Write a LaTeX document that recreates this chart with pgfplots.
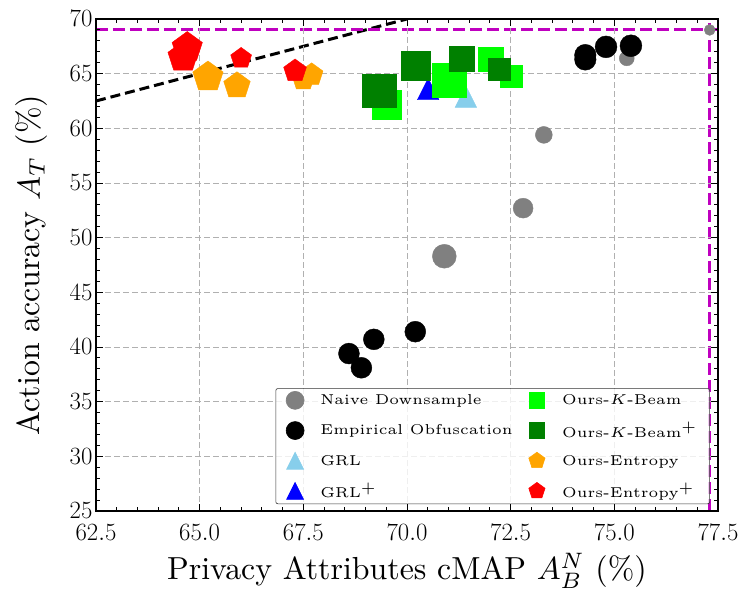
\documentclass[border=0pt]{standalone}
\usepackage{graphicx}
\usepackage{pgfplots}
\usepackage{pgfplotstable}
\pgfplotsset{compat=1.18}
\definecolor{mgray}{HTML}{808080}
\definecolor{skyb}{HTML}{87CEEB}
\definecolor{mblue}{HTML}{0000FF}
\definecolor{mlime}{HTML}{00FF00}
\definecolor{mgreen}{HTML}{008000}
\definecolor{morange}{HTML}{FFA500}
\definecolor{mred}{HTML}{FF0000}
\definecolor{mmag}{HTML}{BF00BF}
\definecolor{gridgray}{HTML}{B0B0B0}

\pgfdeclareplotmark{mpltri}{%
  \pgfpathmoveto{\pgfqpoint{0pt}{\pgfplotmarksize}}%
  \pgfpathlineto{\pgfqpoint{-\pgfplotmarksize}{-\pgfplotmarksize}}%
  \pgfpathlineto{\pgfqpoint{\pgfplotmarksize}{-\pgfplotmarksize}}%
  \pgfpathclose
  \pgfusepathqfillstroke}

\newcommand{\legtxt}[1]{\scalebox{2.87}{\fontsize{5}{6}\selectfont #1}}
\newcommand{\labtxt}[1]{\scalebox{3.2}{\fontsize{10}{12}\selectfont #1}}

\pgfplotstableread{
x y r
77.3 69.0 5.5
75.3 66.4 7.5
73.3 59.4 8.5
72.8 52.7 10
70.9 48.3 12
}\naive
\pgfplotstableread{
x y r
74.3 66.7 10.8
74.3 66.3 10.8
74.8 67.45 11
75.4 67.55 11
68.6 39.4 10.5
68.9 38.1 10.5
69.2 40.7 10.5
70.2 41.4 10.5
}\empir
\pgfplotstableread{
x y r
71.42 62.9 10.8
}\grl
\pgfplotstableread{
x y r
70.51 63.6 10.8
}\grlp
\pgfplotstableread{
x y r
69.52 62.18 14.5
71.01 64.39 17
72.02 66.32 12.5
72.51 64.8 11
}\kbeam
\pgfplotstableread{
x y r
69.32 63.44 17
70.21 65.71 14.8
71.31 66.4 12.5
72.22 65.4 11
}\kbeamp
\pgfplotstableread{
x y r
65.2 64.7 16
65.9 63.9 14
67.5 64.5 12
67.7 64.9 12
}\entr
\pgfplotstableread{
x y r
64.7 67.4 16
64.6 66.5 16
66.0 66.4 11
67.3 65.25 12
}\entrp

\pgfplotsset{
  bub/.style 2 args={scatter, only marks, mark=#1, forget plot,
    point meta=explicit,
    scatter/use mapped color={draw=#2, fill=#2},
    visualization depends on={\thisrow{r}\as\rr},
    scatter/@pre marker code/.append style={/tikz/mark size=\rr pt}},
  legmk/.style={only marks,
    legend image code/.code={\draw[##1, fill opacity=1, draw opacity=1] plot coordinates {(9bp,0bp)};\path (0bp,-9bp) (32bp,9bp);}},
}

\begin{document}
\begin{tikzpicture}
\begin{axis}[
  scale only axis, width=622bp, height=492bp,
  xmin=62.5, xmax=77.5, ymin=25, ymax=70,
  xtick={62.5,65,67.5,70,72.5,75,77.5},
  ytick={25,30,...,70},
  minor x tick num=4, minor y tick num=4,
  tick align=inside, tick pos=both,
  major tick length=7bp, minor tick length=4bp,
  tick style={black, line width=1pt},
  axis line style={black, line width=1.3pt},
  grid=major,
  major grid style={gridgray, line width=0.9pt, dash pattern=on 6bp off 3bp},
  axis on top,
  ticklabel style={font=\fontsize{25.5}{28}\selectfont},
  xticklabel style={yshift=-10bp, /pgf/number format/.cd, fixed, fixed zerofill, precision=1},
  xlabel={\labtxt{Privacy Attributes cMAP $A_B^N$ (\%)}},
  ylabel={\labtxt{Action accuracy $A_T$ (\%)}},
  xlabel style={at={(axis description cs:0.5,-0.140)}, anchor=base},
  ylabel style={at={(axis description cs:-0.103,0.5)}, anchor=center},
  legend columns=2,
  legend cell align=left,
  legend style={at={(rel axis cs:0.987,0.014)}, anchor=south east,
    draw=black!80, line width=0.6pt, rounded corners=2bp,
    fill=white, fill opacity=0.8, draw opacity=1, text opacity=1,
    inner xsep=10bp, inner ysep=2.5bp, row sep=10.5bp,
    /tikz/every even column/.append style={column sep=13bp}},
]
\addlegendimage{legmk, mark=*, mgray, mark size=9bp}
\addlegendentry{\legtxt{Naive Downsample}}
\addlegendimage{legmk, mark=square*, mlime, mark size=7.8bp}
\addlegendentry{\legtxt{Ours-$K$-Beam}}
\addlegendimage{legmk, mark=*, black, mark size=9bp}
\addlegendentry{\legtxt{Empirical Obfuscation}}
\addlegendimage{legmk, mark=square*, mgreen, mark size=7.8bp}
\addlegendentry{\legtxt{Ours-$K$-Beam$^+$}}
\addlegendimage{legmk, mark=mpltri, skyb, mark size=8.5bp}
\addlegendentry{\legtxt{GRL}}
\addlegendimage{legmk, mark=pentagon*, morange, mark size=8.5bp}
\addlegendentry{\legtxt{Ours-Entropy}}
\addlegendimage{legmk, mark=mpltri, mblue, mark size=8.5bp}
\addlegendentry{\legtxt{GRL$^+$}}
\addlegendimage{legmk, mark=pentagon*, mred, mark size=8.5bp}
\addlegendentry{\legtxt{Ours-Entropy$^+$}}

\addplot[bub={*}{mgray}] table[x=x,y=y,meta=r]{\naive};
\addplot[bub={*}{black}] table[x=x,y=y,meta=r]{\empir};
\addplot[bub={mpltri}{skyb}] table[x=x,y=y,meta=r]{\grl};
\addplot[bub={mpltri}{mblue}] table[x=x,y=y,meta=r]{\grlp};
\addplot[bub={square*}{mlime}] table[x=x,y=y,meta=r]{\kbeam};
\addplot[bub={square*}{mgreen}] table[x=x,y=y,meta=r]{\kbeamp};
\addplot[bub={pentagon*}{morange}] table[x=x,y=y,meta=r]{\entr};
\addplot[bub={pentagon*}{mred}] table[x=x,y=y,meta=r]{\entrp};

\addplot[forget plot, black, line width=3bp, dash pattern=on 10bp off 5bp] coordinates {(62.5,62.5) (70,70)};
\addplot[forget plot, mmag, line width=3bp, dash pattern=on 12bp off 5bp] coordinates {(62.5,69) (77.5,69)};
\addplot[forget plot, mmag, line width=3bp, dash pattern=on 12bp off 5bp] coordinates {(77.3,25) (77.3,70)};
\end{axis}
\pgfresetboundingbox
\path (current axis.south west) ++(-96bp,-83bp) rectangle ++(745bp,594bp);
\end{tikzpicture}
\end{document}
